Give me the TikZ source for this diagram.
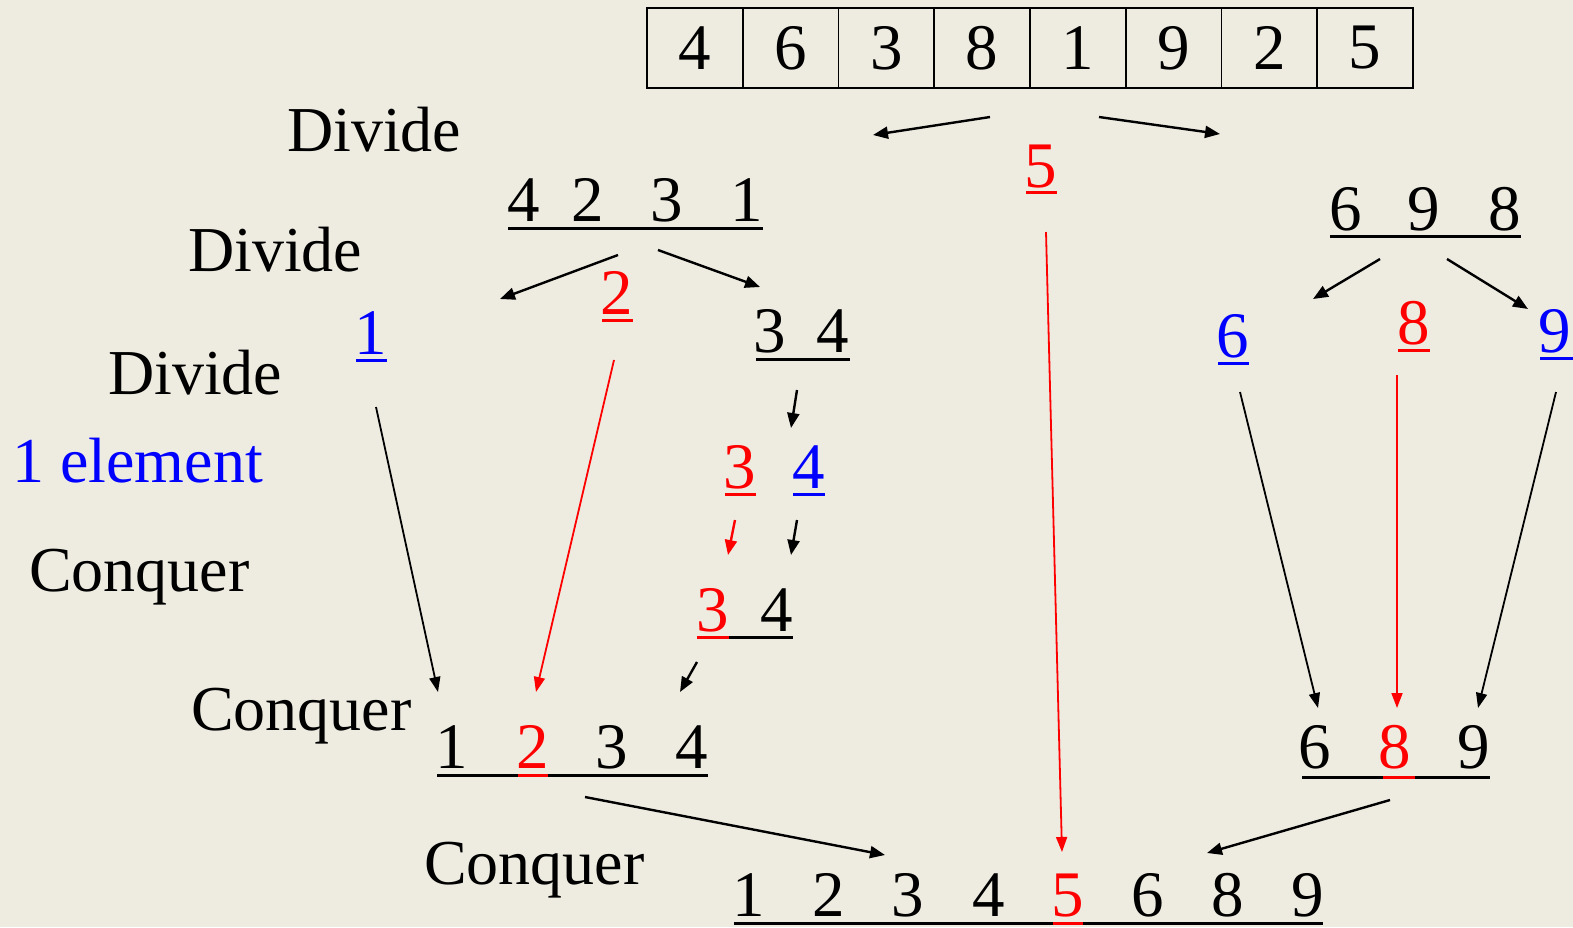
\documentclass[tikz,border=0pt]{standalone}
\usepackage{fontspec}
\setmainfont{Liberation Serif}
\usetikzlibrary{arrows.meta}
\definecolor{bg}{HTML}{EEECE1}
\definecolor{rd}{HTML}{FF0000}
\definecolor{bl}{HTML}{0000FF}
\tikzset{
  txt/.style={inner sep=0pt, anchor=base, font=\fontsize{65}{72}\selectfont},
  lbl/.style={inner sep=0pt, anchor=base west, font=\fontsize{64}{72}\selectfont},
  cell/.style={draw, line width=1.8pt, minimum width=95.75pt, minimum height=80pt, inner sep=0pt, font=\fontsize{65}{72}\selectfont},
  uline/.style={line width=3pt},
  arr/.style={-{Triangle[length=15pt,width=12pt]}, line width=2.4pt},
  larr/.style={-{Triangle[length=15pt,width=11pt]}, line width=1.8pt},
}
\begin{document}
\begin{tikzpicture}[x=1pt,y=-1pt]
\useasboundingbox[fill=bg] (0,0) rectangle (1573,927);
% top array
\foreach \v [count=\i] in {4,6,3,8,1,9,2,5}
  \node[cell] (c\i) at ({647+47.875+95.75*(\i-1)},48) {\v};
% labels
\node[lbl] (d1) at (287,151) {Divide};
\node[lbl] (d2) at (188,271) {Divide};
\node[lbl] (d3) at (108,394) {Divide};
\node[lbl,text=bl] (one) at (12,482) {1 element};
\node[lbl] (q1) at (29,591) {Conquer};
\node[lbl] (q2) at (191,730) {Conquer};
\node[lbl] (q3) at (424,884) {Conquer};
% pivot 5
\node[txt,text=rd] (p5) at (1041,187) {5};
\draw[uline,rd] (1026,192) -- (1057,192);
% 4 2 3 1
\node[txt] (l4) at (524,221) {4};
\node[txt] (l2) at (588,221) {2};
\node[txt] (l3) at (667,221) {3};
\node[txt] (l1) at (747,221) {1};
\draw[uline] (508,228) -- (763,228);
% 6 9 8
\node[txt] (r6) at (1346,230) {6};
\node[txt] (r9) at (1424,230) {9};
\node[txt] (r8) at (1505,230) {8};
\draw[uline] (1330,236) -- (1521,236);
% second level left
\node[txt,text=rd] (p2) at (617,314) {2};
\draw[uline,rd] (602,320) -- (633,320);
\node[txt,text=bl] (s1) at (371,354) {1};
\draw[uline,bl] (356,360) -- (387,360);
\node[txt] (t3) at (770,352) {3};
\node[txt] (t4) at (833,352) {4};
\draw[uline] (756,359) -- (850,359);
% second level right
\node[txt,text=bl] (s6) at (1233,357) {6};
\draw[uline,bl] (1218,363) -- (1249,363);
\node[txt,text=rd] (p8) at (1414,344) {8};
\draw[uline,rd] (1398,350) -- (1430,350);
\node[txt,text=bl] (s9) at (1555,352) {9};
\draw[uline,bl] (1540,358) -- (1573,358);
% 3 4 split
\node[txt,text=rd] (u3) at (740,488) {3};
\draw[uline,rd] (725,494) -- (756,494);
\node[txt,text=bl] (u4) at (809,488) {4};
\draw[uline,bl] (793,494) -- (825,494);
% 3 4 merged
\node[txt,text=rd] (m3) at (713,631) {3};
\node[txt] (m4) at (777,631) {4};
\draw[uline] (697,637) -- (793,637);
\draw[uline,rd] (697,637) -- (729,637);
% 1 2 3 4
\node[txt] (k1) at (452,768) {1};
\node[txt,text=rd] (k2) at (533,768) {2};
\node[txt] (k3) at (612,768) {3};
\node[txt] (k4) at (692,768) {4};
\draw[uline] (437,775) -- (708,775);
\draw[uline,rd] (518,775) -- (548,775);
% 6 8 9
\node[txt] (g6) at (1315,768) {6};
\node[txt,text=rd] (g8) at (1395,768) {8};
\node[txt] (g9) at (1474,768) {9};
\draw[uline] (1302,777) -- (1490,777);
\draw[uline,rd] (1383,777) -- (1415,777);
% final
\foreach \v/\x/\c [count=\i] in {1/749/black,2/829/black,3/908/black,4/989/black,5/1068/rd,6/1148/black,8/1228/black,9/1308/black}
  \node[txt,text=\c] (f\i) at (\x,916) {\v};
\draw[uline] (734,923) -- (1323,923);
\draw[uline,rd] (1053,923) -- (1083,923);
% arrow end coordinates
\coordinate (a1s) at (990,117);  \coordinate (a1e) at (873,135);
\coordinate (a2s) at (1099,117); \coordinate (a2e) at (1220,134);
\coordinate (a3s) at (618,255);  \coordinate (a3e) at (500,299);
\coordinate (a4s) at (658,250);  \coordinate (a4e) at (760,287);
\coordinate (a5s) at (1380,259); \coordinate (a5e) at (1313,299);
\coordinate (a6s) at (1447,259); \coordinate (a6e) at (1528,309);
\coordinate (a7s) at (797,390);  \coordinate (a7e) at (791,428);
\coordinate (a8s) at (735,520);  \coordinate (a8e) at (728,555);
\coordinate (a9s) at (797,520);  \coordinate (a9e) at (791,555);
\coordinate (a10s) at (697,662); \coordinate (a10e) at (680,692);
\coordinate (a11s) at (376,407); \coordinate (a11e) at (438,692);
\coordinate (a12s) at (614,360); \coordinate (a12e) at (536,692);
\coordinate (a13s) at (1046,232); \coordinate (a13e) at (1062,852);
\coordinate (a14s) at (1240,392); \coordinate (a14e) at (1318,708);
\coordinate (a15s) at (1397,375); \coordinate (a15e) at (1397,708);
\coordinate (a16s) at (1556,392); \coordinate (a16e) at (1478,708);
\coordinate (a17s) at (585,797); \coordinate (a17e) at (885,855);
\coordinate (a18s) at (1390,800); \coordinate (a18e) at (1207,853);
% arrows
\draw[arr] (a1s) -- (a1e);
\draw[arr] (a2s) -- (a2e);
\draw[arr] (a3s) -- (a3e);
\draw[arr] (a4s) -- (a4e);
\draw[arr] (a5s) -- (a5e);
\draw[arr] (a6s) -- (a6e);
\draw[arr] (a7s) -- (a7e);
\draw[arr,rd] (a8s) -- (a8e);
\draw[arr] (a9s) -- (a9e);
\draw[arr] (a10s) -- (a10e);
\draw[larr] (a11s) -- (a11e);
\draw[larr,rd] (a12s) -- (a12e);
\draw[larr,rd] (a13s) -- (a13e);
\draw[larr] (a14s) -- (a14e);
\draw[larr,rd] (a15s) -- (a15e);
\draw[larr] (a16s) -- (a16e);
\draw[arr] (a17s) -- (a17e);
\draw[arr] (a18s) -- (a18e);
\end{tikzpicture}
\end{document}
